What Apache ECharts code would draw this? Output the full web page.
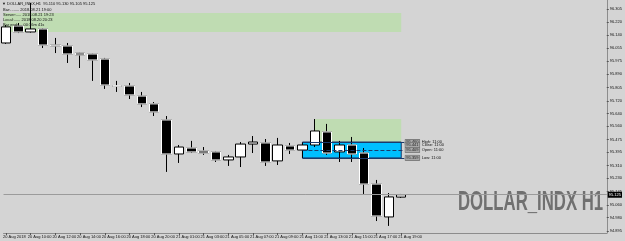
<!DOCTYPE html>
<html><head><meta charset="utf-8">
<script src="https://cdn.jsdelivr.net/npm/echarts@6/dist/echarts.min.js"></script>
<style>html,body{margin:0;padding:0;background:#d4d4d4}#c{width:625px;height:241px}</style>
</head><body><div id="c"></div>
<script>
// ---- data ----
const categories = [
  "20 Aug 08:00","20 Aug 09:00","20 Aug 10:00","20 Aug 11:00","20 Aug 12:00","20 Aug 13:00","20 Aug 14:00",
  "20 Aug 15:00","20 Aug 16:00","20 Aug 17:00","20 Aug 18:00","20 Aug 19:00","20 Aug 20:00","20 Aug 21:00",
  "21 Aug 01:00","21 Aug 02:00","21 Aug 03:00","21 Aug 04:00","21 Aug 05:00","21 Aug 06:00","21 Aug 07:00",
  "21 Aug 08:00","21 Aug 09:00","21 Aug 10:00","21 Aug 11:00","21 Aug 12:00","21 Aug 13:00","21 Aug 14:00",
  "21 Aug 15:00","21 Aug 16:00","21 Aug 17:00","21 Aug 18:00","21 Aug 19:00"
];
const xTickLabels = [
  "20 Aug 2018","","20 Aug 10:00","","20 Aug 12:00","","20 Aug 14:00","","20 Aug 16:00","","20 Aug 18:00","",
  "20 Aug 20:00","","21 Aug 01:00","","21 Aug 03:00","","21 Aug 05:00","","21 Aug 07:00","","21 Aug 09:00","",
  "21 Aug 11:00","","21 Aug 13:00","","21 Aug 15:00","","21 Aug 17:00","","21 Aug 19:00"
];
const opens  = [96.089,96.197,96.159,96.178,96.076,96.070,96.025,96.019,95.987,95.818,95.816,95.752,95.702,95.600,
                95.384,95.422,95.403,95.397,95.346,95.365,95.447,95.454,95.340,95.435,95.409,95.441,95.524,95.397,
                95.441,95.390,95.193,94.984,95.110];
const closes = [96.191,96.159,96.178,96.076,96.070,96.019,96.013,95.981,95.822,95.814,95.759,95.702,95.651,95.384,
                95.428,95.397,95.390,95.346,95.365,95.447,95.460,95.333,95.441,95.409,95.441,95.530,95.390,95.441,
                95.384,95.193,94.990,95.111,95.125];
const lows   = [96.083,96.152,96.155,96.057,96.025,95.962,95.930,95.848,95.797,95.778,95.733,95.682,95.625,95.270,
                95.327,95.390,95.378,95.333,95.308,95.301,95.390,95.308,95.314,95.384,95.359,95.428,95.378,95.333,
                95.333,95.130,94.958,94.927,95.105];
const highs  = [96.203,96.216,96.343,96.184,96.121,96.089,96.027,96.022,95.994,95.848,95.835,95.778,95.714,95.625,
                95.441,95.467,95.428,95.403,95.378,95.460,95.498,95.479,95.486,95.454,95.460,95.606,95.575,95.467,
                95.492,95.422,95.219,95.136,95.130];
const yTickLabels = [96.305,96.220,96.140,96.055,95.975,95.890,95.805,95.720,95.640,95.560,95.475,95.395,
                     95.310,95.230,95.145,95.060,94.980,94.895];
// zones: [startIndex, endIndex, upper price, lower price]
const zoneGreenTop = [-0.2, 32, 96.279, 96.159];
const zoneGreenMid = [25, 32, 95.606, 95.441];
const zoneBlue     = [24, 32, 95.460, 95.359];
const levelNames  = ["High", "Close", "Open", "Low"];
const levelValues = [95.460, 95.441, 95.409, 95.359];
const levelTime = "11:00";
const infoLines = ["Bar:........ 2018.08.21 19:00","Server:..... 2018.08.21 19:23","Local:...... 2018.08.20 20:23","Bar ends... 00:36m 41s"];
const symbolTitle = "DOLLAR_INDX,H1  95.110 95.130 95.105 95.125";
const watermark = "DOLLAR_INDX H1";

// ---- build ----
const candleData = categories.map((c, i) => [i, opens[i], closes[i], lows[i], highs[i]]);
const bearBodies = categories.map((c, i) => closes[i] < opens[i] ? [i, opens[i], closes[i], closes[i], opens[i]] : [i, '-', '-', '-', '-']);
const last = closes[closes.length - 1];
const tickIdx = xTickLabels.map((t, i) => t ? i : null).filter(v => v !== null);
const FONT = '"Liberation Sans", Arial, sans-serif';

const chart = echarts.init(document.getElementById('c'), null, {renderer: 'canvas'});
chart.setOption({
  animation: false,
  backgroundColor: '#d4d4d4',
  grid: {left: 0, right: 16, top: 0, bottom: 8, containLabel: false},
  xAxis: {
    type: 'value', min: -0.2, max: 48.64,
    axisLine: {show: true, onZero: false, lineStyle: {color: '#8c8c8c', width: 1}},
    axisTick: {show: true, length: 2, lineStyle: {color: '#555'}, customValues: tickIdx},
    axisLabel: {fontSize: 4, color: '#111', fontFamily: FONT, align: 'left', margin: 2,
      padding: [0, 0, 0, -3], customValues: tickIdx,
      formatter: (v) => xTickLabels[Math.round(v)] || ''},
    splitLine: {show: false}
  },
  yAxis: {
    type: 'value', position: 'right', min: 94.882, max: 96.362,
    axisLine: {show: true, onZero: false, lineStyle: {color: '#8c8c8c', width: 1}},
    axisTick: {show: true, length: 2, inside: false, lineStyle: {color: '#555'}, customValues: yTickLabels},
    axisLabel: {fontSize: 4, color: '#111', fontFamily: FONT, margin: 3, customValues: yTickLabels,
      formatter: (v) => v.toFixed(3)},
    splitLine: {show: false}
  },
  series: [
    {
      type: 'line', data: [], silent: true, z: 1,
      markArea: {
        silent: true,
        data: [
          [{coord: [zoneGreenTop[0], zoneGreenTop[2]], itemStyle: {color: '#bfdcb2'}}, {coord: [zoneGreenTop[1], zoneGreenTop[3]]}],
          [{coord: [zoneGreenMid[0], zoneGreenMid[2]], itemStyle: {color: '#bfdcb2'}}, {coord: [zoneGreenMid[1], zoneGreenMid[3]]}],
          [{coord: [zoneBlue[0], zoneBlue[2]], itemStyle: {color: '#00bfff', borderColor: '#1b3a6b', borderWidth: 1}}, {coord: [zoneBlue[1], zoneBlue[3]]}]
        ]
      },
      markLine: {
        silent: true, symbol: 'none',
        data: levelNames.map((n, k) => [
          {coord: [zoneBlue[0], levelValues[k]],
           lineStyle: {color: n === 'Close' ? 'rgba(0,0,0,0)' : '#1b3a6b', width: 1, type: n === 'Open' ? 'dashed' : 'solid'}},
          {coord: [zoneBlue[1] + 0.25, levelValues[k]],
           label: {show: true, position: 'end', distance: 1, fontSize: 4, fontFamily: FONT, color: '#111',
             formatter: '{b|' + levelValues[k].toFixed(3) + '}  ' + n + ': ' + levelTime,
             rich: {b: {fontSize: 4, color: '#222', backgroundColor: '#a8a8a8', borderColor: '#555', borderWidth: 0.5, padding: [0.5, 1]}}}}
        ])
      }
    },
    {
      type: 'candlestick', data: candleData, barWidth: 10, z: 3,
      encode: {x: 0, y: [1, 2, 3, 4]},
      itemStyle: {color: '#ffffff', color0: '#000000', borderColor: '#000000', borderColor0: '#000000', borderWidth: 1},
      markLine: {
        silent: true, symbol: 'none',
        data: [[{coord: [-0.2, last]}, {coord: [48.64, last]}]],
        lineStyle: {color: '#9b9b9b', width: 1, type: 'solid'},
        label: {show: true, position: 'end', distance: 1, fontSize: 4, fontFamily: FONT, color: '#fff',
          backgroundColor: '#000', padding: [1, 1], formatter: () => last.toFixed(3)}
      }
    },
    {
      type: 'candlestick', data: bearBodies, barWidth: 10, z: 4,
      encode: {x: 0, y: [1, 2, 3, 4]},
      itemStyle: {color: '#000', color0: '#000000', borderColor: '#ffffff', borderColor0: '#ffffff', borderWidth: 1}
    }
  ],
  graphic: [
    {type: 'text', x: 2, y: 2, z: 100, style: {text: '▼ ' + symbolTitle, font: '4px ' + FONT, fill: '#111'}},
    ...infoLines.map((t, k) => ({type: 'text', x: 3, y: 8 + k * 5, z: 100, style: {text: t, font: '4px ' + FONT, fill: '#111'}})),
    {type: 'text', x: 458, y: 189, scaleX: 0.62, z: 0,
     style: {text: watermark, font: 'bold 27px "Liberation Sans", Arial, sans-serif', fill: '#707070'}}
  ]
});
</script></body></html>
